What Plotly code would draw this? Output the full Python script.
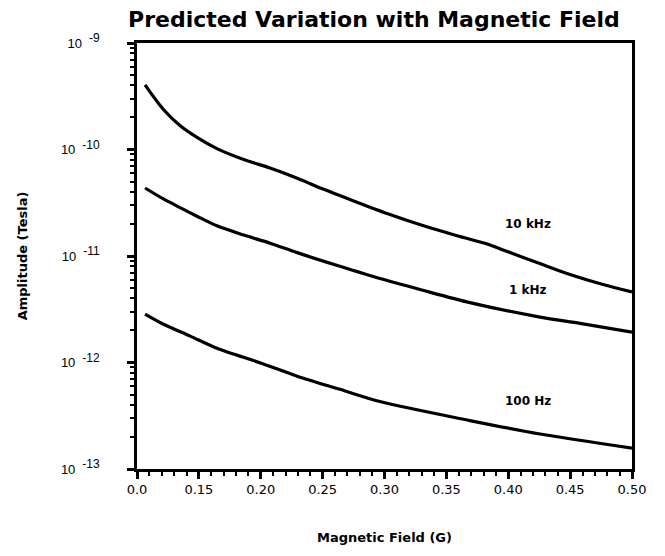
import plotly.graph_objects as go

# values (x in G, y in Tesla)
x_10k = [0.1065, 0.121, 0.1347, 0.1485, 0.1646, 0.1857, 0.2075, 0.230, 0.2503, 0.2778,
         0.3044, 0.331, 0.3586, 0.3853, 0.3958, 0.4232, 0.4499, 0.4766, 0.50]
y_10k = [4.04e-10, 2.40e-10, 1.68e-10, 1.30e-10, 1.02e-10, 8.1e-11, 6.7e-11, 5.35e-11, 4.25e-11,
         3.2e-11, 2.45e-11, 1.93e-11, 1.55e-11, 1.27e-11, 1.14e-11, 8.7e-12, 6.7e-12, 5.4e-12, 4.59e-12]

x_1k = [0.1065, 0.121, 0.1347, 0.1485, 0.1646, 0.1857, 0.2075, 0.230, 0.264, 0.2963,
        0.3287, 0.369, 0.4257, 0.458, 0.50]
y_1k = [4.35e-11, 3.45e-11, 2.85e-11, 2.36e-11, 1.92e-11, 1.58e-11, 1.32e-11, 1.07e-11, 8.0e-12,
         6.15e-12, 4.85e-12, 3.65e-12, 2.67e-12, 2.33e-12, 1.93e-12]

x_100 = [0.1065, 0.121, 0.143, 0.1646, 0.201, 0.230, 0.264, 0.2963, 0.369, 0.4257, 0.50]
y_100 = [2.85e-12, 2.30e-12, 1.77e-12, 1.36e-12, 9.8e-13, 7.4e-13, 5.6e-13, 4.3e-13,
         2.85e-13, 2.13e-13, 1.57e-13]

x_tickvals = [0.10, 0.15, 0.20, 0.25, 0.30, 0.35, 0.40, 0.45, 0.50]
x_ticktext = ["0.0", "0.15", "0.20", "0.25", "0.30", "0.35", "0.40", "0.45", "0.50"]
y_tickvals = [1e-9, 1e-10, 1e-11, 1e-12, 1e-13]
y_exps = ["-9", "-10", "-11", "-12", "-13"]
y_ticktext = ['10 <sup><span style="font-size:12px"> ' + e + '</span></sup>' for e in y_exps]

fig = go.Figure()
for xs, ys, nm in [(x_10k, y_10k, "10 kHz"), (x_1k, y_1k, "1 kHz"), (x_100, y_100, "100 Hz")]:
    fig.add_trace(go.Scatter(x=xs, y=ys, mode="lines", name=nm,
                             line=dict(color="black", width=3.2, shape="spline", smoothing=0.8)))

labels = [("10 kHz", -10.70), ("1 kHz", -11.32), ("100 Hz", -12.36)]
for txt, ly in labels:
    fig.add_annotation(x=0.416, y=ly, text="<b>" + txt + "</b>", showarrow=False,
                       font=dict(size=12, color="black", family="DejaVu Sans"))

fig.update_xaxes(range=[0.10, 0.50], tickmode="array", tickvals=x_tickvals, ticktext=x_ticktext,
                 showline=True, linewidth=2.5, linecolor="black", mirror=True,
                 ticks="outside", ticklen=7, tickwidth=2.5, tickcolor="black",
                 minor=dict(ticks="outside", ticklen=4, tickwidth=2, tickmode="linear",
                            tick0=0.10, dtick=0.01, tickcolor="black"),
                 showgrid=False, zeroline=False, automargin=False,
                 tickfont=dict(size=13, color="black", family="DejaVu Sans"),
                 title=dict(text="<b>Magnetic Field (G)</b>", standoff=37,
                            font=dict(size=13, color="black", family="DejaVu Sans")))
fig.update_yaxes(type="log", range=[-13, -9], tickmode="array", tickvals=y_tickvals, ticktext=y_ticktext,
                 showline=True, linewidth=2.5, linecolor="black", mirror=True,
                 ticks="outside", ticklen=7, tickwidth=2.5, tickcolor="black",
                 minor=dict(ticks="outside", ticklen=4, tickwidth=2, dtick="D1", tickcolor="black"),
                 showgrid=False, zeroline=False, ticklabelstandoff=25, automargin=False,
                 tickfont=dict(size=13, color="black", family="Liberation Sans"),
                 title=dict(text="<b>Amplitude (Tesla)</b>", standoff=31,
                            font=dict(size=13, color="black", family="DejaVu Sans")))

# page has an 8px body margin, so the figure is a bit smaller than the window
fig.update_layout(
    width=657, height=548,
    title=dict(text="<b>Predicted Variation with Magnetic Field</b>", x=0.557, xanchor="center",
               y=0.993, yanchor="top", font=dict(size=22, color="black", family="DejaVu Sans")),
    font=dict(family="Liberation Sans", color="black"),
    showlegend=False,
    plot_bgcolor="white", paper_bgcolor="white",
    margin=dict(l=129, r=33, t=35, b=87),
)
fig.write_html("out.html")
